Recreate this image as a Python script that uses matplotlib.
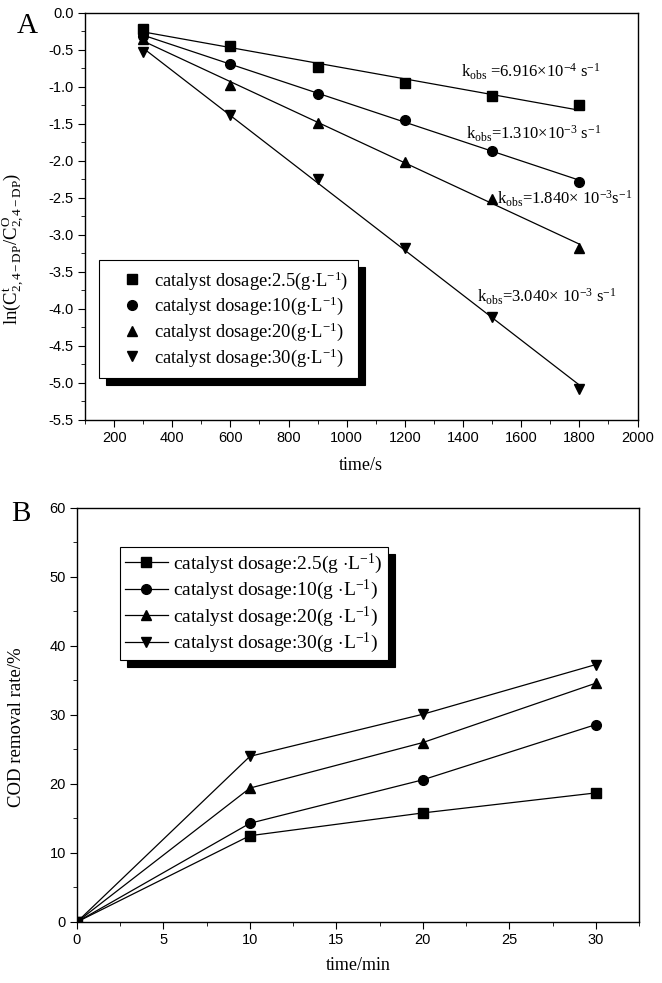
import numpy as np
import matplotlib
matplotlib.use('Agg')
import matplotlib.pyplot as plt
from matplotlib.ticker import MultipleLocator

plt.rcParams['font.family'] = 'Liberation Sans'
plt.rcParams['mathtext.fontset'] = 'custom'
plt.rcParams['mathtext.rm'] = 'Liberation Serif'
plt.rcParams['mathtext.it'] = 'Liberation Serif:italic'

serif = 'Liberation Serif'

# A: ln(Ct/C0) vs time
time_s = [300, 600, 900, 1200, 1500, 1800]
ln_25 = [-0.22, -0.44, -0.73, -0.95, -1.12, -1.25]
ln_10 = [-0.31, -0.69, -1.09, -1.45, -1.86, -2.28]
ln_20 = [-0.35, -0.98, -1.49, -2.01, -2.51, -3.17]
ln_30 = [-0.53, -1.38, -2.24, -3.17, -4.11, -5.08]

# B: COD removal vs time
time_min = [0, 10, 20, 30]
cod_25 = [0, 12.5, 15.8, 18.7]
cod_10 = [0, 14.3, 20.6, 28.6]
cod_20 = [0, 19.4, 26.0, 34.6]
cod_30 = [0, 24.0, 30.1, 37.3]

labels_a = ['catalyst dosage:2.5(g$\\cdot$L$^{-1}$)',
            'catalyst dosage:10(g$\\cdot$L$^{-1}$)',
            'catalyst dosage:20(g$\\cdot$L$^{-1}$)',
            'catalyst dosage:30(g$\\cdot$L$^{-1}$)']
labels_b = ['catalyst dosage:2.5(g $\\cdot$L$^{-1}$)',
            'catalyst dosage:10(g $\\cdot$L$^{-1}$)',
            'catalyst dosage:20(g $\\cdot$L$^{-1}$)',
            'catalyst dosage:30(g $\\cdot$L$^{-1}$)']
markers = ['s', 'o', '^', 'v']
k_texts = ['k$_{\\rm obs}$ =6.916$\\times$10$^{-4}$ s$^{-1}$',
           'k$_{\\rm obs}$=1.310$\\times$10$^{-3}$ s$^{-1}$',
           'k$_{\\rm obs}$=1.840$\\times$ 10$^{-3}$s$^{-1}$',
           'k$_{\\rm obs}$=3.040$\\times$ 10$^{-3}$ s$^{-1}$']
k_pos = [(1394, -0.80), (1411, -1.64), (1518, -2.51), (1449, -3.83)]

fig = plt.figure(figsize=(6.62, 9.83), dpi=100)
ax1 = fig.add_axes([0.1284, 0.5728, 0.8346, 0.4140])
ax2 = fig.add_axes([0.1163, 0.0621, 0.8490, 0.4212])


def style(ax):
    for s in ax.spines.values():
        s.set_linewidth(1.0)
    ax.tick_params(which='both', direction='out', top=False, right=False)
    ax.tick_params(which='major', length=5, labelsize=10.5, pad=3)
    ax.tick_params(which='minor', length=3)


handles = []
for ys, m in zip([ln_25, ln_10, ln_20, ln_30], markers):
    h, = ax1.plot(time_s, ys, linestyle='none', marker=m, color='black', markersize=7)
    handles.append(h)
    p = np.polyfit(time_s, ys, 1)
    xx = np.array([time_s[0], time_s[-1]])
    ax1.plot(xx, np.polyval(p, xx), color='black', linewidth=0.9)
for txt, (x, y) in zip(k_texts, k_pos):
    ax1.text(x, y, txt, fontsize=12, family=serif, va='center')

ax1.set_xlim(100, 2000)
ax1.set_ylim(-5.5, 0.0)
ax1.xaxis.set_major_locator(MultipleLocator(200))
ax1.xaxis.set_minor_locator(MultipleLocator(100))
yt = np.arange(-5.5, 0.01, 0.5)
ax1.set_yticks(yt)
ax1.set_yticklabels([('%.1f' % v).replace('-0.0', '0.0') for v in yt])
ax1.yaxis.set_minor_locator(MultipleLocator(0.25))
style(ax1)
ax1.set_xlabel('time/s', fontsize=13, family=serif)
ax1.xaxis.set_label_coords(0.5, -0.09)
ax1.set_ylabel('ln(C$^{\\rm t}_{\\rm 2,4-DP}$/C$^{\\rm O}_{\\rm 2,4-DP}$)', fontsize=13.5, family=serif)
ax1.yaxis.set_label_coords(-0.107, 0.42)
leg1 = ax1.legend(handles, labels_a, loc='lower left', bbox_to_anchor=(0.0253, 0.103),
                  borderaxespad=0, prop={'family': serif, 'size': 13.3}, fancybox=False,
                  shadow={'color': 'black', 'alpha': 1, 'ox': 5, 'oy': -5},
                  edgecolor='black', framealpha=1, handlelength=2.6, handletextpad=-0.1,
                  borderpad=0.5, labelspacing=0.17)
leg1.get_frame().set_linewidth(0.8)
fig.text(17 / 662, 1 - 13 / 983, 'A', fontsize=21, family=serif, va='top')

handles2 = []
for ys, m in zip([cod_25, cod_10, cod_20, cod_30], markers):
    h, = ax2.plot(time_min, ys, marker=m, color='black', markersize=7, linewidth=0.9)
    handles2.append(h)
ax2.set_xlim(0, 32.5)
ax2.set_ylim(0, 60)
ax2.xaxis.set_major_locator(MultipleLocator(5))
ax2.xaxis.set_minor_locator(MultipleLocator(2.5))
ax2.yaxis.set_major_locator(MultipleLocator(10))
ax2.yaxis.set_minor_locator(MultipleLocator(5))
style(ax2)
ax2.set_xlabel('time/min', fontsize=13, family=serif)
ax2.xaxis.set_label_coords(0.5, -0.085)
ax2.set_ylabel('COD removal rate/%', fontsize=13.5, family=serif)
ax2.yaxis.set_label_coords(-0.0925, 0.47)
leg2 = ax2.legend(handles2, labels_b, loc='upper left', bbox_to_anchor=(0.0765, 0.906),
                  borderaxespad=0, prop={'family': serif, 'size': 14}, fancybox=False,
                  shadow={'color': 'black', 'alpha': 1, 'ox': 5, 'oy': -5},
                  edgecolor='black', framealpha=1, handlelength=2.2, handletextpad=0.3,
                  borderpad=0.25, labelspacing=0.11)
leg2.get_frame().set_linewidth(0.8)
fig.text(11 / 662, 1 - 501 / 983, 'B', fontsize=21, family=serif, va='top')

fig.savefig('out.png', dpi=100)
